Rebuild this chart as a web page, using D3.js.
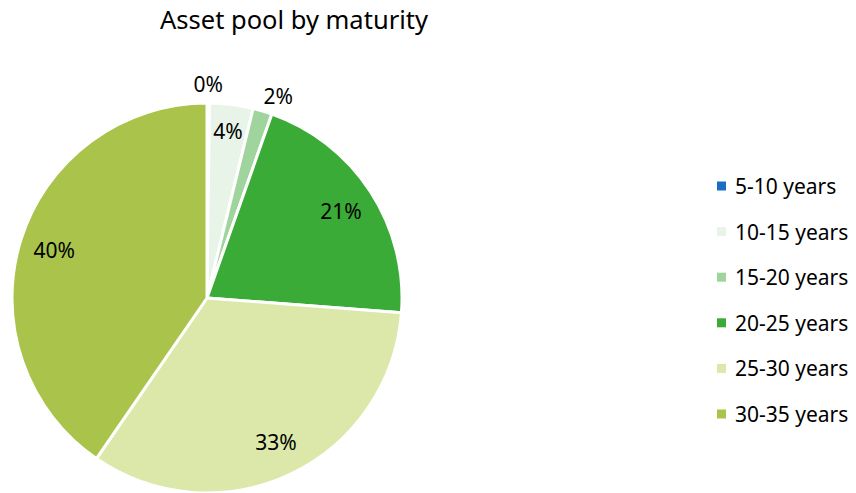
<!DOCTYPE html>
<html lang="en">
<head>
<meta charset="UTF-8">
<title>Asset pool by maturity</title>
<script src="https://cdn.jsdelivr.net/npm/d3@7"></script>
<style>
  body { margin: 0; background: #fff; }
  svg { display: block; font-family: "Noto Sans", sans-serif; }
</style>
</head>
<body>
<div id="chart"></div>
<script>
// chart data
const title = 'Asset pool by maturity'
const categories = ['5-10 years', '10-15 years', '15-20 years', '20-25 years', '25-30 years', '30-35 years']
const shares = [0.2, 3.6, 1.6, 20.8, 33.4, 40.4]
const colors = ['#1a6cc4', '#e8f4e7', '#9fd49c', '#3bab37', '#dbe8a9', '#a9c34b']

let w = 856
let h = 493
let cx = 207, cy = 298, r = 195

let svg = d3.select('#chart').append('svg')
  .attr('width', w)
  .attr('height', h)

svg.append('text')
  .attr('x', 294)
  .attr('y', 29)
  .attr('text-anchor', 'middle')
  .style('font-size', '25.5px')
  .style('fill', '#000')
  .text(title)

let rows = categories.map((c, i) => ({ name: c, value: shares[i], color: colors[i] }))
let total = d3.sum(shares)

let pie = d3.pie().value(d => d.value).sort(null)
let arc = d3.arc().innerRadius(0).outerRadius(r)
let arcs = pie(rows)

let g = svg.append('g').attr('transform', `translate(${cx},${cy})`)

g.selectAll('path')
  .data(arcs)
  .enter()
  .append('path')
  .attr('d', arc)
  .attr('fill', d => d.data.color)
  .attr('stroke', '#fff')
  .attr('stroke-width', 3)
  .attr('stroke-linejoin', 'round')

// labels: small slices outside, others inside
g.selectAll('text.lbl')
  .data(arcs)
  .enter()
  .append('text')
  .attr('class', 'lbl')
  .attr('text-anchor', 'middle')
  .attr('dominant-baseline', 'central')
  .style('font-size', '21px')
  .attr('transform', d => {
    let a = (d.startAngle + d.endAngle) / 2
    let pct = d.data.value / total * 100
    let rr = pct < 3 ? 214 : (pct < 10 ? 168 : 160)
    if (pct < 3 && pct > 1) a += 0.05
    return `translate(${Math.sin(a) * rr},${-Math.cos(a) * rr})`
  })
  .text(d => Math.round(d.data.value / total * 100) + '%')

// legend
let legend = svg.append('g')
let ly = d3.scalePoint().domain(categories).range([186, 414])

legend.selectAll('rect')
  .data(rows)
  .enter()
  .append('rect')
  .attr('x', 717)
  .attr('y', d => ly(d.name) - 4.5)
  .attr('width', 9)
  .attr('height', 9)
  .attr('fill', d => d.color)

legend.selectAll('text')
  .data(rows)
  .enter()
  .append('text')
  .attr('x', 735)
  .attr('y', d => ly(d.name))
  .attr('dominant-baseline', 'central')
  .style('font-size', '21px')
  .text(d => d.name)
</script>
</body>
</html>
